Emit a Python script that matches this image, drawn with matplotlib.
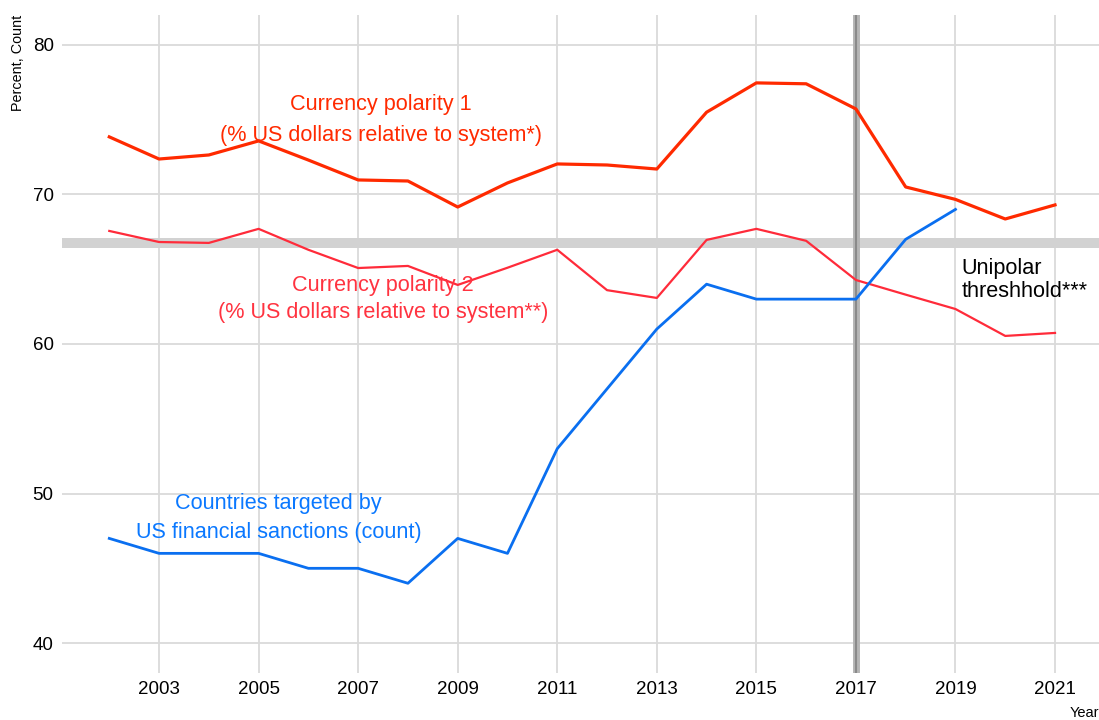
import matplotlib
matplotlib.use("Agg")
import matplotlib.pyplot as plt

years = list(range(2002, 2022))
polarity1 = [73.85, 72.37, 72.64, 73.58, 72.3, 70.97, 70.9, 69.16, 70.77, 72.04,
             71.97, 71.7, 75.5, 77.46, 77.4, 75.72, 70.5, 69.67, 68.36, 69.3]
polarity2 = [67.56, 66.82, 66.76, 67.7, 66.3, 65.08, 65.22, 63.95, 65.1, 66.3,
             63.6, 63.08, 66.96, 67.7, 66.9, 64.28, 63.3, 62.34, 60.54, 60.74]
sanction_years = list(range(2002, 2020))
sanctions = [47, 46, 46, 46, 45, 45, 44, 47, 46, 53, 57, 61, 64, 63, 63, 63, 67, 69]
x_ticks = list(range(2003, 2022, 2))
y_ticks = [40, 50, 60, 70, 80]
threshold = 66.75
event_year = 2017

plt.rcParams['font.family'] = ['Liberation Sans', 'DejaVu Sans']

fig = plt.figure(figsize=(10.99, 7.2), dpi=100)
ax = fig.add_axes([62/1099, 1 - 673/720, 1 - 62/1099 + 0.003, (673 - 15)/720])

ax.set_xlim(2001.05, 2021.95)
ax.set_ylim(38, 82)
ax.set_xticks(x_ticks)
ax.set_yticks(y_ticks)
ax.grid(True, color='#dadada', lw=1.3)
ax.set_axisbelow(True)
for s in ax.spines.values():
    s.set_visible(False)
ax.tick_params(length=0, labelsize=13.5, pad=6, colors='black')

ax.axhspan(threshold - 0.33, threshold + 0.33, color='#d2d2d2', zorder=1, lw=0)
ax.axvline(event_year, color='#b5b5b5', lw=5, zorder=1)
ax.axvline(event_year, color='#8a8a8a', lw=1.5, zorder=1)

ax.plot(years, polarity2, color='#ff2b3a', lw=1.6, zorder=3)
ax.plot(years, polarity1, color='#ff2a00', lw=2.3, zorder=3)
ax.plot(sanction_years, sanctions, color='#0a6ff0', lw=2.0, zorder=3)

fs = 15.6
ax.text(2007.46, 74.98, "Currency polarity 1\n(% US dollars relative to system*)",
        color='#ff2a00', fontsize=fs, ha='center', va='center', linespacing=1.6, zorder=4)
ax.text(2007.5, 62.98, "Currency polarity 2\n(% US dollars relative to system**)",
        color='#ff3340', fontsize=fs, ha='center', va='center', linespacing=1.38, zorder=4)
ax.text(2005.4, 48.36, "Countries targeted by\nUS financial sanctions (count)",
        color='#0a78ff', fontsize=fs, ha='center', va='center', linespacing=1.5, zorder=4)
ax.text(2019.12, 64.25, "Unipolar\nthreshhold***", color='black', fontsize=fs,
        ha='left', va='center', linespacing=1.13, zorder=4)

fig.text(18/1099, 1 - 63/720, "Percent, Count", rotation=90, fontsize=10.4,
         ha='center', va='center')
fig.text(1070/1099, 1 - 713/720, "Year", fontsize=10.5, ha='left', va='center')

fig.savefig("out.png", dpi=100)
